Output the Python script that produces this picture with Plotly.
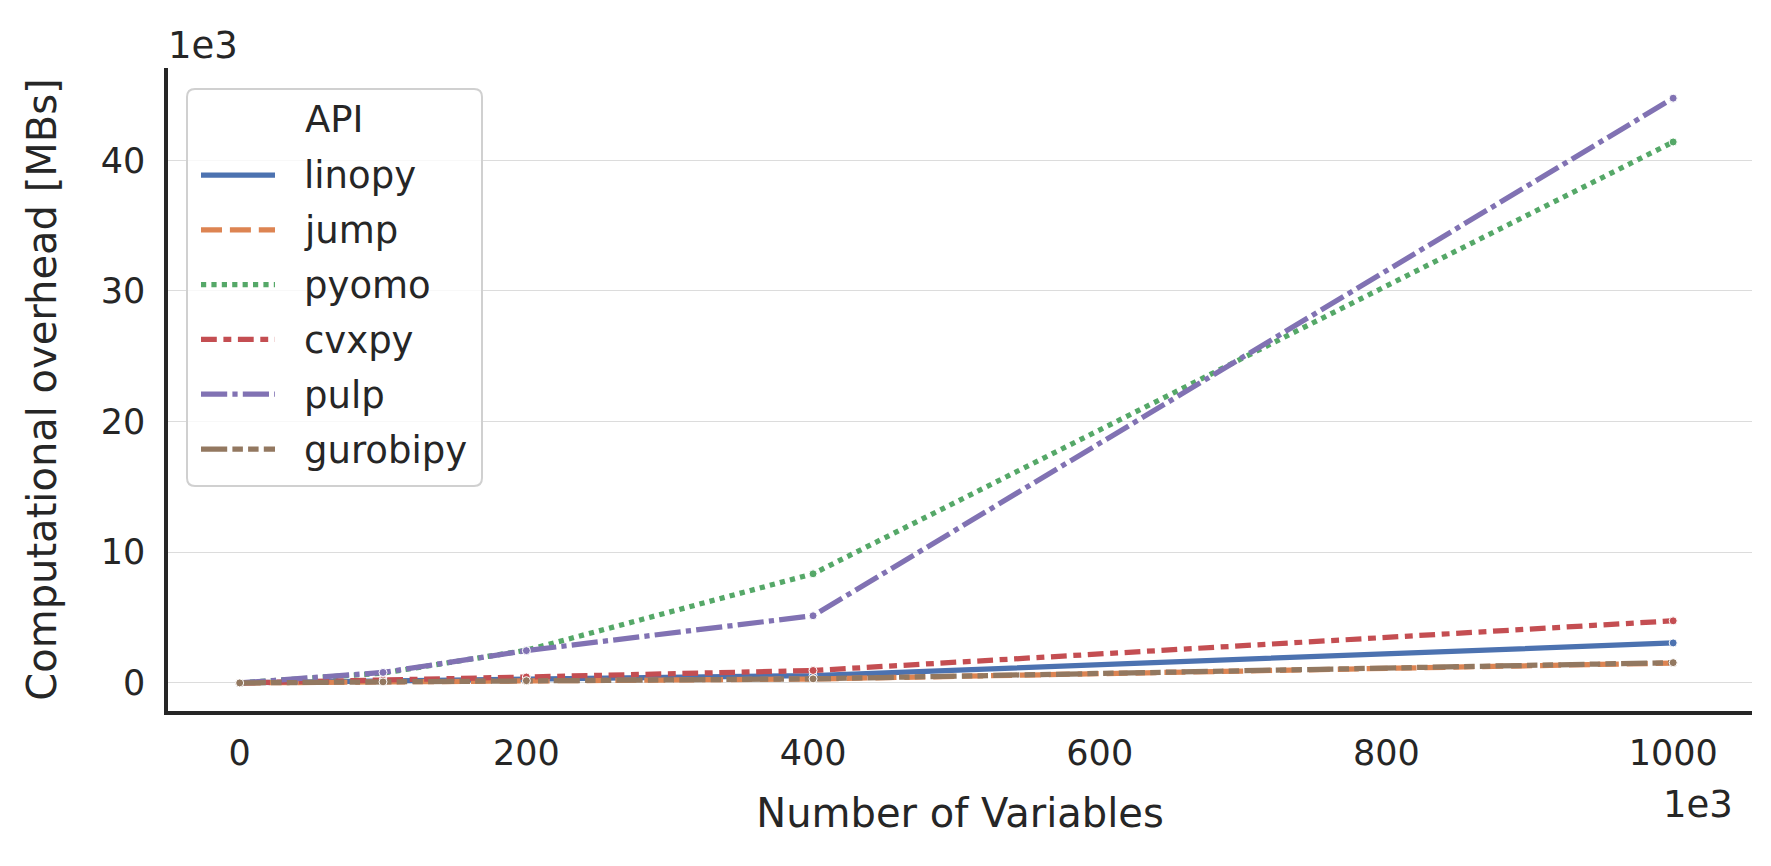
import plotly.graph_objects as go

# ---------------- data (x in 1e3 variables, y in 1e3 MBs) ----------------
n_variables = [0, 100, 200, 400, 1000]
apis = ["linopy", "jump", "pyomo", "cvxpy", "pulp", "gurobipy"]
linopy = [0.0, 0.12, 0.28, 0.56, 3.06]
jump = [0.0, 0.08, 0.17, 0.30, 1.52]
pyomo = [0.0, 0.75, 2.50, 8.35, 41.4]
cvxpy = [0.0, 0.20, 0.45, 0.95, 4.75]
pulp = [0.0, 0.80, 2.47, 5.14, 44.75]
gurobipy = [0.0, 0.08, 0.17, 0.31, 1.55]
x_ticks = [0, 200, 400, 600, 800, 1000]
y_ticks = [0, 10, 20, 30, 40]

series = {"linopy": linopy, "jump": jump, "pyomo": pyomo,
          "cvxpy": cvxpy, "pulp": pulp, "gurobipy": gurobipy}
colors = {"linopy": "#4C72B0", "jump": "#DD8452", "pyomo": "#55A868",
          "cvxpy": "#C44E52", "pulp": "#8172B3", "gurobipy": "#937860"}
LW = 5.25
def dash(*units):
    return ",".join(f"{u * LW:.1f}px" for u in units)
dashes = {"linopy": "solid", "jump": dash(4, 1.5), "pyomo": dash(1, 1),
          "cvxpy": dash(3, 1.25, 1.5, 1.25), "pulp": dash(5, 1, 1, 1),
          "gurobipy": dash(5, 1, 2, 1, 2, 1)}

OFF = 8  # page body margin
W, H = 1771 - OFF, 866 - OFF
L, R, T, B = 168 - OFF, 1752 - OFF, 68 - OFF, 711 - OFF
FONT = "DejaVu Sans"
TXT = "#262626"

fig = go.Figure()
for name in apis:
    fig.add_trace(go.Scatter(
        x=n_variables, y=series[name], name=name, mode="lines+markers",
        line=dict(color=colors[name], width=LW, dash=dashes[name]),
        marker=dict(color=colors[name], size=8, line=dict(color="white", width=1)),
        showlegend=False))

def px(xp):
    return (xp - OFF - L) / (R - L)
def py(yp):
    return (B - (yp - OFF)) / (B - T)

shapes = []
annotations = []
# legend box with rounded corners
x0, x1, y0, y1, r = 187, 482, 89, 486, 8
path = (f"M {px(x0 + r)} {py(y0)} L {px(x1 - r)} {py(y0)} "
        f"Q {px(x1)} {py(y0)} {px(x1)} {py(y0 + r)} "
        f"L {px(x1)} {py(y1 - r)} Q {px(x1)} {py(y1)} {px(x1 - r)} {py(y1)} "
        f"L {px(x0 + r)} {py(y1)} Q {px(x0)} {py(y1)} {px(x0)} {py(y1 - r)} "
        f"L {px(x0)} {py(y0 + r)} Q {px(x0)} {py(y0)} {px(x0 + r)} {py(y0)} Z")
shapes.append(dict(type="path", xref="paper", yref="paper", path=path,
                   fillcolor="rgba(255,255,255,0.8)",
                   line=dict(color="#d0d0d0", width=2), layer="above"))
annotations.append(dict(text="API", x=px((x0 + x1) / 2), y=py(120), xref="paper",
                        yref="paper", showarrow=False, xanchor="center",
                        yanchor="middle", font=dict(family=FONT, size=37, color=TXT)))
row0, step = 175, 54.8
for i, name in enumerate(apis):
    yy = row0 + i * step
    shapes.append(dict(type="line", xref="paper", yref="paper",
                       x0=px(201), x1=px(275), y0=py(yy), y1=py(yy),
                       line=dict(color=colors[name], width=LW, dash=dashes[name]),
                       layer="above"))
    annotations.append(dict(text=name, x=px(302), y=py(yy + 1), xref="paper", yref="paper",
                            showarrow=False, xanchor="left", yanchor="middle",
                            font=dict(family=FONT, size=37, color=TXT)))
# offset texts
annotations.append(dict(text="1e3", x=px(166), y=py(45), xref="paper", yref="paper",
                        showarrow=False, xanchor="left", yanchor="middle",
                        font=dict(family=FONT, size=37, color=TXT)))
annotations.append(dict(text="1e3", x=px(1735), y=py(805), xref="paper", yref="paper",
                        showarrow=False, xanchor="right", yanchor="middle",
                        font=dict(family=FONT, size=37, color=TXT)))

fig.update_layout(
    width=W, height=H,
    margin=dict(l=L, r=W - R, t=T, b=H - B, autoexpand=False),
    paper_bgcolor="white", plot_bgcolor="white",
    font=dict(family=FONT, size=35, color=TXT),
    shapes=shapes, annotations=annotations, showlegend=False,
)
fig.update_xaxes(
    range=[-50, 1055], tickvals=x_ticks, ticktext=[str(v) for v in x_ticks],
    showgrid=False, zeroline=False, showline=True, linecolor=TXT, linewidth=3.5,
    ticks="", ticklabelstandoff=8, tickfont=dict(family=FONT, size=35, color=TXT),
    title=dict(text="Number of Variables", font=dict(family=FONT, size=40, color=TXT),
               standoff=28),
)
fig.update_yaxes(
    range=[-2.15, 47.06], tickvals=y_ticks, ticktext=[str(v) for v in y_ticks],
    showgrid=True, gridcolor="#dcdcdc", gridwidth=1.2,
    zeroline=False, showline=True, linecolor=TXT, linewidth=3.5,
    ticks="", ticklabelstandoff=12, tickfont=dict(family=FONT, size=35, color=TXT),
    title=dict(text="Computational overhead [MBs]", font=dict(family=FONT, size=40, color=TXT),
               standoff=33),
)

fig.write_html("out.html")
